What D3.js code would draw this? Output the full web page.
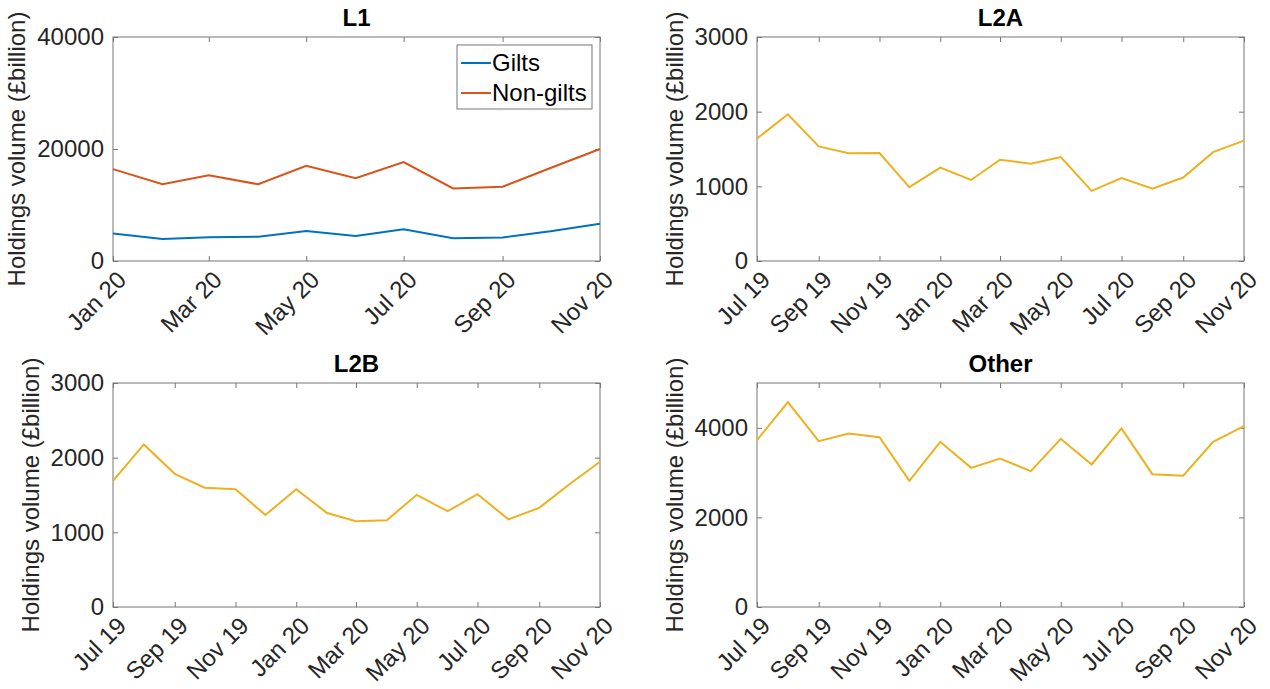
<!DOCTYPE html>
<html>
<head>
<meta charset="utf-8">
<script src="https://cdn.jsdelivr.net/npm/d3@7"></script>
<style>
  body { margin: 0; background: #fff; }
  svg text { font-family: "Liberation Sans", Arial, sans-serif; }
  .tick text { fill: #262626; }
</style>
</head>
<body>
<div id="chart"></div>
<script>
// months
const monthsL1 = ["2020-01","2020-02","2020-03","2020-04","2020-05","2020-06","2020-07","2020-08","2020-09","2020-10","2020-11"];
const monthsLong = ["2019-07","2019-08","2019-09","2019-10","2019-11","2019-12","2020-01","2020-02","2020-03","2020-04","2020-05","2020-06","2020-07","2020-08","2020-09","2020-10","2020-11"];

// L1 series
const gilts    = [4900, 3950, 4250, 4350, 5350, 4450, 5650, 4050, 4200, 5300, 6650];
const nonGilts = [16400, 13700, 15300, 13700, 17000, 14800, 17650, 12950, 13250, 16600, 20000];

// other panels
const l2a   = [1640, 1965, 1535, 1442, 1446, 990, 1250, 1085, 1357, 1304, 1393, 940, 1112, 970, 1118, 1458, 1612];
const l2b   = [1690, 2177, 1784, 1598, 1578, 1232, 1578, 1258, 1150, 1162, 1502, 1283, 1511, 1174, 1328, 1640, 1945];
const other = [3724, 4575, 3700, 3870, 3790, 2816, 3687, 3106, 3315, 3032, 3754, 3181, 3985, 2965, 2930, 3687, 4037];

const yTicksL1 = [0, 20000, 40000];
const yTicks3k = [0, 1000, 2000, 3000];
const yTicksOther = [0, 2000, 4000];

const blue = "#0072BD", orange = "#D95319", yellow = "#EDB120";

const parse = d3.timeParse("%Y-%m");
const fmt = d3.timeFormat("%b %y");
const FONT = "'Liberation Sans', Arial, sans-serif";
const FS = 24;

const panels = [
  { title: "L1", left: 113, top: 37, months: monthsL1, yMax: 40000, yTicks: yTicksL1,
    series: [{ name: "Gilts", values: gilts, color: blue }, { name: "Non-gilts", values: nonGilts, color: orange }], legend: true },
  { title: "L2A", left: 757, top: 37, months: monthsLong, yMax: 3000, yTicks: yTicks3k,
    series: [{ name: "L2A", values: l2a, color: yellow }] },
  { title: "L2B", left: 113, top: 383, months: monthsLong, yMax: 3000, yTicks: yTicks3k,
    series: [{ name: "L2B", values: l2b, color: yellow }] },
  { title: "Other", left: 757, top: 383, months: monthsLong, yMax: 5000, yTicks: yTicksOther,
    series: [{ name: "Other", values: other, color: yellow }] },
];

const width = 487, height = 224;

const svg = d3.select("#chart").append("svg")
  .attr("width", 1270)
  .attr("height", 689)
  .attr("font-family", FONT);

panels.forEach(p => {
  const dates = p.months.map(parse);
  const x = d3.scaleTime().domain(d3.extent(dates)).range([0, width]);
  const y = d3.scaleLinear().domain([0, p.yMax]).range([height, 0]);
  const xTickVals = dates.filter((d, i) => i % 2 === 0);

  const g = svg.append("g").attr("transform", `translate(${p.left},${p.top})`);

  // box
  g.append("rect")
    .attr("width", width).attr("height", height)
    .attr("fill", "none").attr("stroke", "#777").attr("stroke-width", 1);

  // axes (ticks point inward)
  const xAxis = g.append("g")
    .attr("transform", `translate(0,${height})`)
    .call(d3.axisBottom(x).tickValues(xTickVals).tickFormat(fmt).tickSizeInner(-5).tickSizeOuter(0))
    .attr("font-family", FONT).attr("font-size", FS);
  xAxis.selectAll(".tick text")
    .attr("text-anchor", "end")
    .attr("dy", "0.72em")
    .attr("y", 0)
    .attr("transform", "translate(2,8) rotate(-45)");

  g.append("g")
    .call(d3.axisTop(x).tickValues(xTickVals).tickFormat("").tickSizeInner(-5).tickSizeOuter(0));

  const yAxis = g.append("g")
    .call(d3.axisLeft(y).tickValues(p.yTicks).tickFormat(d3.format("d")).tickSizeInner(-5).tickSizeOuter(0).tickPadding(9))
    .attr("font-family", FONT).attr("font-size", FS);

  g.append("g")
    .attr("transform", `translate(${width},0)`)
    .call(d3.axisRight(y).tickValues(p.yTicks).tickFormat("").tickSizeInner(-5).tickSizeOuter(0));

  g.selectAll(".domain").remove();
  g.selectAll(".tick line").attr("stroke", "#777");

  // y label sits just outside the widest tick label
  let maxW = 0;
  yAxis.selectAll(".tick text").each(function () { maxW = Math.max(maxW, this.getComputedTextLength()); });
  g.append("text")
    .attr("transform", `translate(${-(maxW + 21)},${height / 2}) rotate(-90)`)
    .attr("text-anchor", "middle")
    .attr("font-size", FS)
    .attr("fill", "#262626")
    .text("Holdings volume (£billion)");

  // title
  g.append("text")
    .attr("x", width / 2).attr("y", -11)
    .attr("text-anchor", "middle")
    .attr("font-size", FS)
    .attr("font-weight", "bold")
    .attr("fill", "#000")
    .text(p.title);

  // lines
  const line = d3.line()
    .x((d, i) => x(dates[i]))
    .y(d => y(d));

  p.series.forEach(s => {
    g.append("path")
      .attr("d", line(s.values))
      .attr("fill", "none")
      .attr("stroke", s.color)
      .attr("stroke-width", 2);
  });

  if (p.legend) {
    const lg = g.append("g").attr("transform", `translate(${width - 143},8)`);
    lg.append("rect")
      .attr("width", 135).attr("height", 64)
      .attr("fill", "#fff").attr("stroke", "#777");
    p.series.forEach((s, i) => {
      const yy = 18 + i * 30;
      lg.append("line")
        .attr("x1", 4).attr("x2", 34)
        .attr("y1", yy).attr("y2", yy)
        .attr("stroke", s.color).attr("stroke-width", 2);
      lg.append("text")
        .attr("x", 35).attr("y", yy)
        .attr("dy", "0.35em")
        .attr("font-size", FS)
        .attr("fill", "#000")
        .text(s.name);
    });
  }
});
</script>
</body>
</html>
